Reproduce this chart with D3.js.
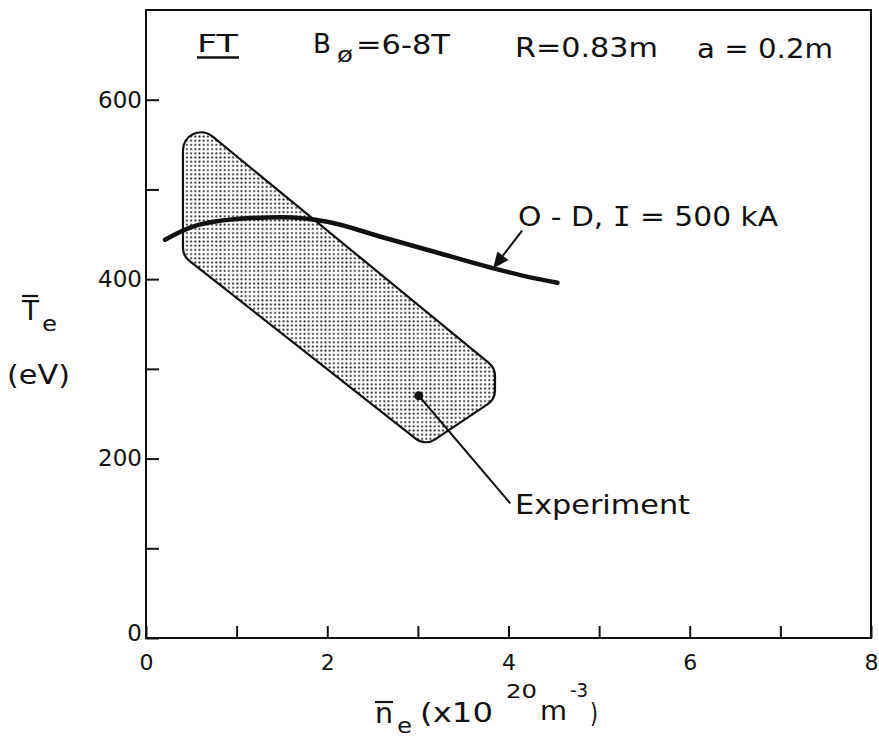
<!DOCTYPE html>
<html>
<head>
<meta charset="utf-8">
<script src="https://cdn.jsdelivr.net/npm/d3@7"></script>
<style>
  html, body { margin: 0; padding: 0; background: #fff; }
  svg { display: block; }
  text { font-family: "DejaVu Sans", sans-serif; fill: #111; }
</style>
</head>
<body>
<svg id="chart" width="879" height="737"></svg>
<script>
// ---- data ----
const xTicks = [0, 1, 2, 3, 4, 5, 6, 7, 8];
const xTickLabels = ["0", "", "2", "", "4", "", "6", "", "8"];
const yTicks = [0, 100, 200, 300, 400, 500, 600];
const yTickLabels = ["0", "", "200", "", "400", "", "600"];

// 0-D model curve, I = 500 kA
const odDensity = [0.21, 0.5, 1.0, 1.5, 2.0, 2.6, 3.2, 3.8, 4.24, 4.54];
const odTemp    = [444, 458, 467, 469, 464, 447, 430, 413, 402, 396];

// Experimental region: corner vertices of the (rounded) outline
const expDensity = [0.408, 3.851, 3.851, 3.079, 0.408];
const expTemp    = [586, 301, 266, 214, 426];
const expCornerRadius = [18, 17, 17, 16, 16];

// annotation anchors (data units)
const odArrowFrom = [4.15, 454];
const odArrowTo = [3.83, 412];
const expDot = [3.01, 270];
const expLineEnd = [4.02, 150];

// ---- chart ----
const svg = d3.select("#chart");
const x = d3.scaleLinear().domain([0, 8]).range([146, 871]);
const y = d3.scaleLinear().domain([0, 700]).range([638, 10]);

// stipple pattern
const defs = svg.append("defs");
const pat = defs.append("pattern").attr("id", "stip").attr("patternUnits", "userSpaceOnUse")
  .attr("width", 4.2).attr("height", 4.2);
pat.append("rect").attr("width", 4.2).attr("height", 4.2).attr("fill", "#fff");
pat.append("circle").attr("cx", 2.1).attr("cy", 2.1).attr("r", 1.0).attr("fill", "#222");

// experimental region with rounded corners
const expPts = expDensity.map((d, i) => [x(d), y(expTemp[i])]);
{
  const p = d3.path();
  const n = expPts.length;
  const mid = (a, b) => [(a[0] + b[0]) / 2, (a[1] + b[1]) / 2];
  const start = mid(expPts[n - 1], expPts[0]);
  p.moveTo(start[0], start[1]);
  for (let i = 0; i < n; i++) {
    const cur = expPts[i], nxt = expPts[(i + 1) % n];
    const m = mid(cur, nxt);
    p.arcTo(cur[0], cur[1], m[0], m[1], expCornerRadius[i]);
  }
  p.closePath();
  svg.append("path").attr("d", p.toString())
    .attr("fill", "url(#stip)").attr("stroke", "#111").attr("stroke-width", 2.2);
}

// 0-D curve
const odPts = odDensity.map((d, i) => [x(d), y(odTemp[i])]);
svg.append("path")
  .attr("d", d3.line().curve(d3.curveMonotoneX)(odPts))
  .attr("fill", "none").attr("stroke", "#111").attr("stroke-width", 4.5).attr("stroke-linecap", "round");

// frame
svg.append("rect").attr("x", x(0)).attr("y", y(700)).attr("width", x(8) - x(0)).attr("height", y(0) - y(700))
  .attr("fill", "none").attr("stroke", "#111").attr("stroke-width", 2);

// axes
const xAxis = d3.axisBottom(x).tickValues(xTicks).tickSize(-12).tickPadding(16)
  .tickFormat((d, i) => xTickLabels[i]);
const gx = svg.append("g").attr("transform", `translate(0,${y(0)})`).call(xAxis);
gx.select(".domain").remove();
gx.selectAll(".tick line").attr("stroke", "#111").attr("stroke-width", 2);
gx.selectAll(".tick text").attr("font-size", 22).attr("font-family", "DejaVu Sans").attr("fill", "#111");

const yAxis = d3.axisLeft(y).tickValues(yTicks).tickSize(-13).tickPadding(4)
  .tickFormat((d, i) => yTickLabels[i]);
const gy = svg.append("g").attr("transform", `translate(${x(0)},0)`).call(yAxis);
gy.select(".domain").remove();
gy.selectAll(".tick line").attr("stroke", "#111").attr("stroke-width", 2);
gy.selectAll(".tick text").attr("font-size", 23).attr("font-family", "DejaVu Sans").attr("fill", "#111");
gy.selectAll(".tick").filter(d => d === 0).select("text").attr("dy", "0.1em");

// title texts
function txt(s, px, py, size, len) {
  const t = svg.append("text").attr("x", px).attr("y", py).attr("font-size", size).text(s);
  if (len) t.attr("textLength", len).attr("lengthAdjust", "spacingAndGlyphs");
  return t;
}
txt("FT", 197, 52, 25, 41);
svg.append("line").attr("x1", 197).attr("x2", 239).attr("y1", 57.5).attr("y2", 57.5).attr("stroke", "#111").attr("stroke-width", 2.5);
txt("B", 313, 53, 26, 18);
txt("ø", 337, 62, 22, 16);
txt("=6-8T", 356, 54, 26, 94);
txt("R=0.83m", 515, 57, 26, 143);
txt("a = 0.2m", 697, 58, 26, 136);

// O-D label + arrow
{
  const t = svg.append("text").attr("x", 518).attr("y", 226).attr("font-size", 27);
  t.append("tspan").text("O - D,  ");
  t.append("tspan").attr("font-family", "DejaVu Sans Mono").text("I");
  t.append("tspan").text(" = 500 kA");
  t.attr("textLength", 260).attr("lengthAdjust", "spacingAndGlyphs");
}
{
  const x1 = x(odArrowFrom[0]), y1 = y(odArrowFrom[1]);
  const x2 = x(odArrowTo[0]), y2 = y(odArrowTo[1]);
  const ang = Math.atan2(y2 - y1, x2 - x1);
  const L = 16, W = 7;
  const bx = x2 - L * Math.cos(ang), by = y2 - L * Math.sin(ang);
  svg.append("line").attr("x1", x1).attr("y1", y1).attr("x2", bx).attr("y2", by)
    .attr("stroke", "#111").attr("stroke-width", 2);
  const px = -Math.sin(ang), py = Math.cos(ang);
  svg.append("path").attr("d", `M${x2},${y2}L${bx + W * px},${by + W * py}L${bx - W * px},${by - W * py}Z`)
    .attr("fill", "#111");
}

// Experiment label + pointer
svg.append("line").attr("x1", x(expDot[0])).attr("y1", y(expDot[1]))
  .attr("x2", x(expLineEnd[0])).attr("y2", y(expLineEnd[1]))
  .attr("stroke", "#111").attr("stroke-width", 2);
svg.append("circle").attr("cx", x(expDot[0])).attr("cy", y(expDot[1])).attr("r", 4.5).attr("fill", "#111");
txt("Experiment", 515, 514, 27, 175);

// y-axis label
txt("T", 22, 320, 26, 17);
svg.append("line").attr("x1", 22).attr("x2", 38).attr("y1", 296).attr("y2", 296).attr("stroke", "#111").attr("stroke-width", 2.2);
txt("e", 42, 331, 21, 15);
txt("(eV)", 7, 384, 26, 63);

// x-axis label
txt("n", 375, 723, 28, 18);
svg.append("line").attr("x1", 375).attr("x2", 393).attr("y1", 702).attr("y2", 702).attr("stroke", "#111").attr("stroke-width", 2.2);
txt("e", 397, 733, 21, 15);
txt("(x10", 420, 722, 26, 73);
txt("20", 506, 698, 19, 31);
txt("m", 540, 720, 26, 27);
txt("-3", 570, 697, 19, 18);
txt(")", 590, 722, 26, 8);
</script>
</body>
</html>
